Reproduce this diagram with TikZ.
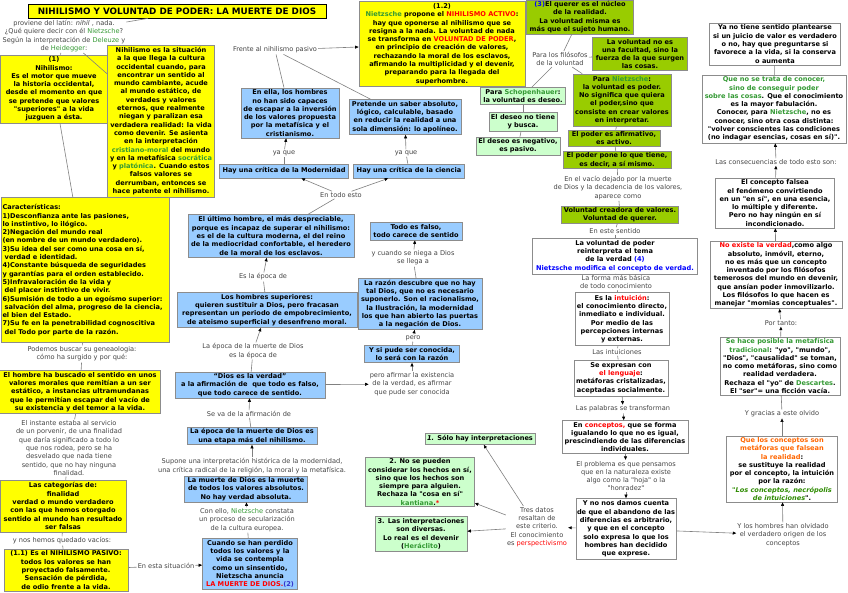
\documentclass[tikz,border=0pt]{standalone}
\usepackage{fontspec}
\setmainfont{DejaVu Sans}[Ligatures=TeXOff]
\usetikzlibrary{arrows.meta}
\definecolor{amarillo}{HTML}{FFFF00}
\definecolor{celeste}{HTML}{99CCFF}
\definecolor{oliva}{HTML}{99CC00}
\definecolor{menta}{HTML}{CCFFCC}
\definecolor{verdenz}{HTML}{339933}
\definecolor{verdeosc}{HTML}{2E8B00}
\definecolor{rojonz}{HTML}{FF0000}
\definecolor{azulnz}{HTML}{0000FF}
\definecolor{azulosc}{HTML}{3333CC}
\definecolor{naranjanz}{HTML}{FF6600}
\definecolor{borde}{HTML}{8C8C8C}
\definecolor{texto}{HTML}{444444}
\newcommand{\verde}[1]{\textcolor{verdenz}{#1}}
\newcommand{\rojo}[1]{\textcolor{rojonz}{#1}}
\newcommand{\azul}[1]{\textcolor{azulnz}{#1}}
\newcommand{\naranja}[1]{\textcolor{naranjanz}{#1}}

\begin{document}
\begin{tikzpicture}[x=1pt,y=-1pt,>={Triangle[length=3.5pt,width=3pt,color=black]},
  font=\fontsize{6.6}{8.3}\selectfont,
  caja/.style={draw=borde,line width=.7pt,align=center,inner sep=1pt,font=\fontsize{6.6}{8.3}\selectfont\bfseries},
  amar/.style={caja,fill=amarillo},
  azc/.style={caja,fill=celeste},
  olv/.style={caja,fill=oliva},
  mnt/.style={caja,fill=menta},
  blc/.style={caja,fill=white},
  etq/.style={text=texto,align=center,inner sep=1pt},
  ln/.style={draw=black!50,line width=.6pt}]
  \path[use as bounding box,fill=white] (0,0) rectangle (848,592);

  % columna izquierda
  \node[amar,draw=black,minimum width=298pt,minimum height=14pt,inner sep=.5pt,font=\fontsize{8.8}{9.5}\selectfont\bfseries] (title) at (177,11) {NIHILISMO Y VOLUNTAD DE PODER: LA MUERTE DE DIOS};
  \node[etq] (t1) at (64,36) {proviene del latín: \textit{nihil} , nada.\\¿Qué quiere decir con él \verde{Nietzsche}?\\Según la interpretación de \verde{Deleuze} y\\de \verde{Heidegger}:};
  \node[amar,minimum width=108pt,minimum height=68pt] (nih1) at (54,89) {(1)\\Nihilismo:\\Es el motor que mueve\\la historia occidental,\\desde el momento en que\\se pretende que valores\\"superiores" a la vida\\juzguen a ésta.};
  \node[amar,minimum width=107pt,minimum height=152pt] (nih2) at (161,121) {Nihilismo es la situación\\a la que llega la cultura\\occidental cuando, para\\encontrar un sentido al\\mundo cambiante, acude\\al mundo estático, de\\verdades y valores\\eternos, que realmente\\niegan y paralizan esa\\verdadera realidad: la vida\\como devenir. Se asienta\\en la interpretación\\\verde{cristiano-moral} del mundo\\y en la metafísica \verde{socrática}\\y \verde{platónica}. Cuando estos\\falsos valores se\\derrumban, entonces se\\hace patente el nihilismo.};
  \node[amar,align=left,text width=166pt,minimum height=145pt] (car) at (85.5,270) {Características:\\1)Desconfianza ante las pasiones,\\lo instintivo, lo ilógico.\\2)Negación del mundo real\\(en nombre de un mundo verdadero).\\3)Su idea del ser como una cosa en sí,\\\ verdad e identidad.\\4)Constante búsqueda de seguridades\\y garantías para el orden establecido.\\5)Infravaloración de la vida y\\\ del placer instintivo de vivir.\\6)Sumisión de todo a un egoísmo superior:\\\ salvación del alma, progreso de la ciencia,\\el bien del Estado.\\7)Su fe en la penetrabilidad cognoscitiva\\\ del Todo por parte de la razón.};
  \node[etq] (lgen) at (82,354) {Podemos buscar su geneaologia:\\cómo ha surgido y por qué:};
  \node[amar,minimum width=161pt,minimum height=43pt] (hom) at (80,392) {El hombre ha buscado el sentido en unos\\valores morales que remitían a un ser\\estático, a instancias ultramundanas\\que le permitían escapar del vacío de\\su existencia y del temor a la vida.};
  \node[etq] (linst) at (69,448) {El instante estaba al servicio\\de un porvenir, de una finalidad\\que daría significado a todo lo\\que nos rodea, pero se ha\\desvelado que nada tiene\\sentido, que no hay ninguna\\finalidad.};
  \node[amar,minimum width=126pt,minimum height=52pt] (cat) at (63,506) {Las categorías de:\\finalidad\\verdad o mundo verdadero\\con las que hemos otorgado\\sentido al mundo han resultado\\ser falsas};
  \node[etq] (lvac) at (62,541) {y nos hemos quedado vacíos:};
  \node[amar,minimum width=124pt,minimum height=42pt] (pas) at (66,570) {(1.1) Es el NIHILISMO PASIVO:\\todos los valores se han\\proyectado falsamente.\\Sensación de pérdida,\\de odio frente a la vida.};
  \node[etq] (lsit) at (166,566) {En esta situación};

  % columna central
  \node[azc,minimum width=95pt,minimum height=51pt] (cuando) at (250,564) {Cuando se han perdido\\todos los valores y la\\vida se contempla\\como un sinsentido,\\Nietzscha anuncia\\\rojo{LA MUERTE DE DIOS.}\textcolor{azulosc}{(2)}};
  \node[etq] (lcon) at (247,520) {Con ello, \verde{Nietzsche} constata\\un proceso de secularización\\de la cultura europea.};
  \node[azc,minimum width=123pt,minimum height=26pt] (muerte) at (246,489) {La muerte de Dios es la muerte\\de todos los valores absolutos.\\No hay verdad absoluta.};
  \node[etq] (lsup) at (252,466) {Supone una interpretación histórica de la modernidad,\\una crítica radical de la religión, la moral y la metafísica.};
  \node[azc,minimum width=130pt,minimum height=17pt] (epoca) at (252,436) {La época de la muerte de Dios es\\una etapa más del nihilismo.};
  \node[etq] (lva) at (249,414) {Se va de la afirmación de};
  \node[azc,minimum width=150pt,minimum height=26pt] (dioses) at (250,385) {“Dios es la verdad”\\a la afirmación de \ que todo es falso,\\que todo carece de sentido.};
  \node[etq] (lepo) at (253,351) {La época de la muerte de Dios\\es la época de};
  \node[azc,minimum width=180pt,minimum height=35pt] (superiores) at (267,310) {Los hombres superiores:\\quieren sustituir a Dios, pero fracasan\\representan un periodo de empobrecimiento,\\de ateismo superficial y desenfreno moral.};
  \node[etq] (lesla) at (263,277) {Es la época de};
  \node[azc,minimum width=166pt,minimum height=43pt] (ultimo) at (271,236) {El último hombre, el más despreciable,\\porque es incapaz de superar el nihilismo:\\es el de la cultura moderna, el del reino\\de la mediocridad confortable, el heredero\\de la moral de los esclavos.};
  \node[etq] (ltodo) at (341,195) {En todo esto};
  \node[azc,minimum width=129pt,minimum height=14pt] (modern) at (284,171) {Hay una crítica de la Modernidad};
  \node[azc,minimum width=111pt,minimum height=14pt] (ciencia) at (409,171) {Hay una crítica de la ciencia};
  \node[etq] (lya1) at (284,153) {ya que};
  \node[etq] (lya2) at (406,153) {ya que};
  \node[azc,minimum width=98pt,minimum height=50pt] (ella) at (290,113) {En ella, los hombres\\no han sido capaces\\de escapar a la inversión\\de los valores propuesta\\por la metafísica y el\\cristianismo.};
  \node[azc,minimum width=112pt,minimum height=35pt] (pretende) at (405,117) {Pretende un saber absoluto,\\lógico, calculable, basado\\en reducir la realidad a una\\sola dimensión: lo apolíneo.};
  \node[etq] (lfrente) at (275,50) {Frente al nihilismo pasivo};
  \node[amar,minimum width=166pt,minimum height=85pt] (activo) at (442,44) {(1.2)\\\verde{Nietzsche} propone el \rojo{NIHILISMO ACTIVO}:\\hay que oponerse al nihilismo que se\\resigna a la nada. La voluntad de nada\\se transforma en \rojo{VOLUNTAD DE PODER},\\en principio de creación de valores,\\rechazando la moral de los esclavos,\\afirmando la multiplicidad y el devenir,\\preparando para la llegada del\\superhombre.};
  \node[azc,minimum width=92pt,minimum height=18pt] (falso) at (416,231) {Todo es falso,\\todo carece de sentido};
  \node[etq] (lniega) at (413,258) {y cuando se niega a Dios\\se llega a};
  \node[azc,minimum width=124pt,minimum height=51pt] (razon) at (420,304) {La razón descubre que no hay\\tal Dios, que no es necesario\\suponerlo. Son el racionalismo,\\la Ilustración, la modernidad\\los que han abierto las puertas\\a la negación de Dios.};
  \node[etq] (lpero) at (413,338) {pero};
  \node[azc,minimum width=95pt,minimum height=17pt] (cono) at (412,354) {Y si pude ser conocida,\\lo será con la razón};
  \node[etq] (lpero2) at (412,384) {pero afirmar la existencia\\de la verdad, es afirmar\\que pude ser conocida};

  % la voluntad
  \node[olv,minimum width=107pt,minimum height=34pt] (querer) at (580,17) {\azul{(3)}El querer es el núcleo\\de la realidad.\\La voluntad misma es\\más que el sujeto humano.};
  \node[etq] (lfil) at (560,59) {Para los filósofos\\de la voluntad};
  \node[olv,minimum width=95pt,minimum height=33pt] (facultad) at (640,54) {La voluntad no es\\una facultad, sino la\\fuerza de la que surgen\\las cosas.};
  \node[mnt,minimum width=85pt,minimum height=17pt] (scho) at (523,96) {Para \verde{Schopenhauer}:\\la voluntad es deseo.};
  \node[mnt,minimum width=68pt,minimum height=19pt] (deseo1) at (523,122) {El deseo no tiene\\y busca.};
  \node[mnt,minimum width=84pt,minimum height=18pt] (deseo2) at (518,146) {El deseo es negativo,\\es pasivo.};
  \node[olv,minimum width=98pt,minimum height=52pt] (nzpoder) at (622,100) {Para \verde{Nietzsche}:\\la voluntad es poder.\\No significa que quiera\\el poder,sino que\\consiste en crear valores\\en interpretar.};
  \node[olv,minimum width=92pt,minimum height=16pt] (afirm) at (614,138) {El poder es afirmativo,\\es activo.};
  \node[olv,minimum width=108pt,minimum height=17pt] (pone) at (617,160) {El poder pone lo que tiene,\\es decir, a sí mismo.};
  \node[etq] (lvacio) at (618,188) {En el vacío dejado por la muerte\\de Dios y la decadencia de los valores,\\aparece como};
  \node[olv,minimum width=117pt,minimum height=17pt] (creadora) at (620,215) {Voluntad creadora de valores.\\Voluntad de querer.};
  \node[etq] (lsentido) at (615,231) {En este sentido};
  \node[blc,minimum width=165pt,minimum height=36pt] (verdad4) at (615,256) {La voluntad de poder\\reinterpreta el tema\\de la verdad \azul{(4)}\\\azul{Nietzsche modifica el concepto de verdad.}};
  \node[etq] (lforma) at (616,282) {La forma más básica\\de todo conocimiento};
  \node[blc,minimum width=94pt,minimum height=53pt] (intu) at (622,319) {Es la \rojo{intuición}:\\el conocimiento directo,\\inmediato e individual.\\Por medio de las\\percepciones internas\\y externas.};
  \node[etq] (lintu) at (617,352) {Las intuiciones};
  \node[blc,minimum width=94pt,minimum height=36pt] (leng) at (621,378) {Se expresan con\\\rojo{el lenguaje}:\\metáforas cristalizadas,\\aceptadas socialmente.};
  \node[etq] (lpal) at (623,409) {Las palabras se transforman};
  \node[blc,minimum width=126pt,minimum height=33pt] (concep) at (625,437) {En \rojo{conceptos,} que se forma\\igualando lo que no es igual,\\prescindiendo de las diferencias\\individuales.};
  \node[etq] (lprob) at (626,476) {El problema es que pensamos\\que en la naturaleza existe\\algo como la "hoja" o la\\"honradez"};
  \node[blc,minimum width=98pt,minimum height=61pt] (ynos) at (626,529) {Y no nos damos cuenta\\de que el abandono de las\\diferencias es arbitrario,\\y que en el concepto\\solo expresa lo que los\\hombres han decidido\\que exprese.};
  \node[etq] (ltres) at (537,527) {Tres datos\\resaltan de\\este criterio.\\El conocimiento\\es \rojo{perspectivismo}};
  \node[mnt,minimum width=110pt,minimum height=11pt] (int1) at (480,439) {\textit{1.} Sólo hay interpretaciones};
  \node[mnt,minimum width=109pt,minimum height=49pt] (int2) at (420,482) {2. No se pueden\\considerar los hechos en sí,\\sino que los hechos son\\siempre para alguien.\\Rechaza la "cosa en sí"\\\verde{kantiana}.\rojo{*}};
  \node[mnt,minimum width=92pt,minimum height=35pt] (int3) at (421,534) {3. Las interpretaciones\\son diversas.\\Lo real es el devenir\\(\verde{Heráclito})};

  % columna derecha
  \node[blc,minimum width=131pt,minimum height=42pt] (ya) at (775,44) {Ya no tiene sentido plantearse\\si un juicio de valor es verdadero\\o no, hay que preguntarse si\\favorece a la vida, si la conserva\\o aumenta};
  \node[blc,minimum width=144pt,minimum height=68pt] (trata) at (774,109) {\verde{Que no se trata de conocer,}\\\verde{sino de conseguir poder}\\\verde{sobre las cosas}. Que el conocimiento\\es la mayor fabulación.\\Conocer, para \verde{Nietzsche}, no es\\conocer, sino otra cosa distinta:\\"volver conscientes las condiciones\\(no indagar esencias, cosas en sí)".};
  \node[etq] (lcons) at (776,162) {Las consecuencias de todo esto son:};
  \node[blc,minimum width=119pt,minimum height=50pt] (falsea) at (775,203) {El concepto falsea\\el fenómeno convirtiendo\\en un "en sí", en una esencia,\\lo múltiple y diferente.\\Pero no hay ningún en sí\\incondicionado.};
  \node[blc,minimum width=132pt,minimum height=67pt] (noexiste) at (776,275) {\rojo{No existe la verdad},como algo\\absoluto, inmóvil, eterno,\\no es más que un concepto\\inventado por los filósofos\\temerosos del mundo en devenir,\\que ansían poder inmovilizarlo.\\Los filósofos lo que hacen es\\manejar "momias conceptuales".};
  \node[etq] (lpor) at (781,323) {Por tanto:};
  \node[blc,minimum width=120pt,minimum height=58pt] (hace) at (780,366) {\verde{Se hace posible la metafísica}\\\verde{tradicional}: "yo", "mundo",\\"Dios", "causalidad" se toman,\\no como metáforas, sino como\\realidad verdadera.\\Rechaza el "yo" de \verde{Descartes}.\\El "ser"= una ficción vacía.};
  \node[etq] (lgrac) at (782,414) {Y gracias a este olvido};
  \node[blc,minimum width=111pt,minimum height=66pt] (metaf) at (782,469) {\naranja{Que los conceptos son}\\\naranja{metáforas que falsean}\\\naranja{la realidad}:\\se sustituye la realidad\\por el concepto, la intuición\\por la razón:\\\textcolor{verdeosc}{\textit{"Los conceptos, necrópolis}}\\\textcolor{verdeosc}{\textit{de intuiciones}}".};
  \node[etq] (lolv) at (783,535) {Y los hombres han olvidado\\el verdadero origen de los\\conceptos};

  \draw[ln] ([yshift=-3pt]t1.north east) -- ([xshift=-29pt]title.south);
  \draw[ln] (t1) -- (nih1);
  \draw[ln] (t1) -- (nih2);
  \draw[ln] (nih1) -- (car);
  \draw[ln] (car) -- (lgen);
  \draw[ln] (lgen) -- (hom);
  \draw[ln] (hom) -- (linst);
  \draw[ln] (linst) -- (cat);
  \draw[ln] (cat) -- (lvac);
  \draw[ln] (lvac) -- (pas);
  \draw[ln] (pas) -- (lsit);
  \draw[ln,->] (lsit) -- (cuando);
  \draw[ln] (cuando) -- (lcon);
  \draw[ln,->] (lcon) -- (muerte);
  \draw[ln] (muerte) -- (lsup);
  \draw[ln,->] (lsup) -- (epoca);
  \draw[ln] (epoca) -- (lva);
  \draw[ln,->] (lva) -- (dioses);
  \draw[ln] (dioses) -- (lepo);
  \draw[ln,->] (lepo) -- (superiores);
  \draw[ln] (superiores) -- (lesla);
  \draw[ln,->] (lesla) -- (ultimo);
  \draw[ln] (ultimo) -- (ltodo);
  \draw[ln,->] (ltodo) -- (modern);
  \draw[ln,->] (ltodo) -- (ciencia);
  \draw[ln] (modern) -- (lya1);
  \draw[ln,->] (lya1) -- (ella);
  \draw[ln] (ciencia) -- (lya2);
  \draw[ln,->] (lya2) -- (pretende);
  \draw[ln] (ella) -- (lfrente);
  \draw[ln] (pretende) -- (lfrente);
  \draw[ln,->] (lfrente) -- (activo);
  \draw[ln,->] (dioses) -- (lpero2);
  \draw[ln,->] (lpero2) -- (cono);
  \draw[ln] (cono) -- (lpero);
  \draw[ln,->] (lpero) -- (razon);
  \draw[ln] (razon) -- (lniega);
  \draw[ln,->] (lniega) -- (falso);

  \draw[ln] (querer) -- (lfil);
  \draw[ln] (lfil) -- (facultad);
  \draw[ln] (lfil) -- (scho);
  \draw[ln] (lfil) -- (nzpoder);
  \draw[ln] (scho) -- (deseo1);
  \draw[ln] (deseo1) -- (deseo2);
  \draw[ln] (nzpoder) -- (afirm);
  \draw[ln] (afirm) -- (pone);
  \draw[ln] (pone) -- (lvacio);
  \draw[ln] (lvacio) -- (creadora);
  \draw[ln] (creadora) -- (lsentido);
  \draw[ln] (lsentido) -- (verdad4);
  \draw[ln] (verdad4) -- (lforma);
  \draw[ln] (lforma) -- (intu);
  \draw[ln] (intu) -- (lintu);
  \draw[ln] (lintu) -- (leng);
  \draw[ln,->] (leng) -- (lpal);
  \draw[ln,->] (lpal) -- (concep);
  \draw[ln,->] (concep) -- (lprob);
  \draw[ln,->] (lprob) -- (ynos);
  \draw[ln,->] (ynos) -- (ltres);
  \draw[ln,->] (ltres) -- (int1);
  \draw[ln,->] (ltres) -- (int2);
  \draw[ln,->] (ltres) -- (int3);

  \draw[ln,->] (ynos) -- (lolv);
  \draw[ln,->] (lolv) -- (metaf);
  \draw[ln,->] (metaf) -- (lgrac);
  \draw[ln] (lgrac) -- (hace);
  \draw[ln,->] (hace) -- (lpor);
  \draw[ln,->] (lpor) -- (noexiste);
  \draw[ln,->] (noexiste) -- (falsea);
  \draw[ln,->] (falsea) -- (lcons);
  \draw[ln,->] (lcons) -- (trata);
  \draw[ln] (trata) -- (ya);
\end{tikzpicture}
\end{document}
